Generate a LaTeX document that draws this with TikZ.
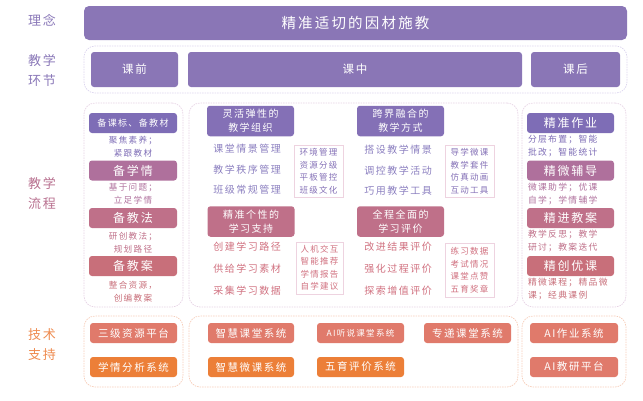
\documentclass[tikz,border=0pt]{standalone}
\usepackage{fontspec}
\setmainfont{Noto Sans CJK SC}[LetterSpace=15]
\definecolor{pur}{HTML}{8A76B6}
\definecolor{purd}{HTML}{7E6DB6}
\definecolor{hpur}{HTML}{8470B6}
\definecolor{mauve}{HTML}{AF709C}
\definecolor{rose}{HTML}{BF7089}
\definecolor{crose}{HTML}{C86F7A}
\definecolor{salmon}{HTML}{E07A6B}
\definecolor{orng}{HTML}{EC7F38}
\definecolor{lpur}{HTML}{8C80C0}
\definecolor{lrose}{HTML}{D0707F}
\definecolor{lblpur}{HTML}{8A78B8}
\definecolor{lblrose}{HTML}{B8708F}
\definecolor{lblor}{HTML}{EE8A4E}
\definecolor{c2line}{HTML}{DCD5EE}
\definecolor{c3line}{HTML}{E6D3E4}
\definecolor{c4line}{HTML}{F6CDB9}
\definecolor{lbline}{HTML}{EED3E0}
\tikzset{
  fillbox/.style={fill=#1, text=white, rounded corners=3pt, inner sep=0pt, align=center},
  cont/.style={draw=#1, dash pattern=on 1.5pt off 1pt, line width=0.7pt, rounded corners=11pt, inner sep=0pt},
  listbox/.style={draw=lbline, line width=0.5pt, inner sep=0pt, align=center, text=#1, font=\fontsize{8.5}{12.5}\selectfont},
  lbl/.style={text=#1, align=center, font=\fontsize{13}{20}\selectfont},
  note/.style={text=#1, align=center, font=\fontsize{8.6}{13}\selectfont},
  rnote/.style={text=#1, align=left, font=\fontsize{8.8}{13}\selectfont, text width=88pt, inner sep=0pt},
  item/.style={text=#1, font=\fontsize{10}{12}\selectfont},
  bigb/.style={fillbox=#1, minimum width=88pt, minimum height=20pt, font=\fontsize{12}{14}\selectfont},
  head/.style={fillbox=#1, minimum width=87pt, minimum height=30.5pt, font=\fontsize{10}{14}\selectfont},
  tech/.style={fillbox=#1, minimum width=87pt, minimum height=20pt, font=\fontsize{10.5}{12}\selectfont}
}
\begin{document}
\begin{tikzpicture}[x=1pt,y=-1pt]
\useasboundingbox (0,0) rectangle (643,400);
% side labels
\node[lbl=lblpur] (l1) at (42,20) {理念};
\node[lbl=lblpur] (l2) at (42,70) {教学\\环节};
\node[lbl=lblrose] (l3) at (42,193) {教学\\流程};
\node[lbl=lblor] (l4) at (42,345) {技术\\支持};
% row 1
\node[fillbox=pur, minimum width=543pt, minimum height=34pt, rounded corners=5pt, font=\fontsize{14.5}{16}\selectfont] (idea) at (355.5,23) {精准适切的因材施教};
% row 2
\node[cont=c2line, minimum width=543pt, minimum height=47pt] (c2) at (355.5,69.5) {};
\node[fillbox=pur, minimum width=87pt, minimum height=35pt, font=\fontsize{11.5}{13}\selectfont] (pre) at (134.5,69.5) {课前};
\node[fillbox=pur, minimum width=334pt, minimum height=35pt, font=\fontsize{11.5}{13}\selectfont] (mid) at (355,69.5) {课中};
\node[fillbox=pur, minimum width=89pt, minimum height=35pt, font=\fontsize{11.5}{13}\selectfont] (post) at (575.5,69.5) {课后};
% row 3 containers
\node[cont=c3line, minimum width=99pt, minimum height=204pt] (c3l) at (133.5,205) {};
\node[cont=c3line, minimum width=329pt, minimum height=204pt] (c3m) at (353.5,205) {};
\node[cont=c3line, minimum width=104pt, minimum height=204pt] (c3r) at (574,205) {};
% left column
\node[fillbox=purd, minimum width=88pt, minimum height=20pt, font=\fontsize{9}{11}\selectfont] (b1) at (133,123) {备课标、备教材};
\node[note=purd] (n1) at (133,146.5) {聚焦素养；\\紧跟教材};
\node[bigb=mauve] (b2) at (133,170.5) {备学情};
\node[note=mauve] (n2) at (133,194) {基于问题；\\立足学情};
\node[bigb=rose] (b3) at (133,218) {备教法};
\node[note=rose] (n3) at (133,243) {研创教法；\\规划路径};
\node[bigb=crose] (b4) at (133,266) {备教案};
\node[note=crose] (n4) at (133,291.5) {整合资源，\\创编教案};
% middle column
\node[head=hpur] (h1) at (250.5,121) {灵活弹性的\\教学组织};
\node[item=lpur] (i11) at (247,149) {课堂情景管理};
\node[item=lpur] (i12) at (247,170) {教学秩序管理};
\node[item=lpur] (i13) at (247,190) {班级常规管理};
\node[listbox=hpur, minimum width=49pt, minimum height=52pt] (s1) at (318.5,171) {环境管理\\资源分级\\平板管控\\班级文化};
\node[head=rose] (h2) at (251,221.5) {精准个性的\\学习支持};
\node[item=lrose] (i21) at (247,247) {创建学习路径};
\node[item=lrose] (i22) at (247,269) {供给学习素材};
\node[item=lrose] (i23) at (247,291) {采集学习数据};
\node[listbox=lrose, minimum width=47pt, minimum height=52pt] (s2) at (319.5,268) {人机交互\\智能推荐\\学情报告\\自学建议};
\node[head=hpur] (h3) at (400.5,121) {跨界融合的\\教学方式};
\node[item=lpur] (i31) at (398,150) {搭设教学情景};
\node[item=lpur] (i32) at (398,171) {调控教学活动};
\node[item=lpur] (i33) at (398,191) {巧用教学工具};
\node[listbox=hpur, minimum width=49pt, minimum height=52pt] (s3) at (469.5,171) {导学微课\\教学套件\\仿真动画\\互动工具};
\node[head=rose] (h4) at (400.5,221.5) {全程全面的\\学习评价};
\node[item=lrose] (i41) at (398,247) {改进结果评价};
\node[item=lrose] (i42) at (398,269) {强化过程评价};
\node[item=lrose] (i43) at (398,291) {探索增值评价};
\node[listbox=lrose, minimum width=49pt, minimum height=54pt] (s4) at (469.5,270) {练习数据\\考试情况\\课堂点赞\\五育奖章};
% right column
\node[bigb=purd, minimum width=87pt] (r1) at (570.5,123) {精准作业};
\node[rnote=purd] (m1) at (572,145.5) {分层布置；智能\\批改；智能统计};
\node[bigb=mauve, minimum width=87pt] (r2) at (570.5,170.5) {精微辅导};
\node[rnote=mauve] (m2) at (572,194) {微课助学；优课\\自学；学情辅学};
\node[bigb=rose, minimum width=87pt] (r3) at (570.5,218) {精进教案};
\node[rnote=rose] (m3) at (572,241) {教学反思；教学\\研讨；教案迭代};
\node[bigb=crose, minimum width=87pt] (r4) at (570.5,266) {精创优课};
\node[rnote=crose] (m4) at (572,289.5) {精微课程；精品微\\课；经典课例};
% row 4
\node[cont=c4line, minimum width=99pt, minimum height=71pt] (c4l) at (133.5,351.5) {};
\node[cont=c4line, minimum width=329pt, minimum height=71pt] (c4m) at (353.5,351.5) {};
\node[cont=c4line, minimum width=104pt, minimum height=71pt] (c4r) at (574,351.5) {};
\node[tech=salmon] (t1) at (133.5,333) {三级资源平台};
\node[tech=orng] (t2) at (133.5,367) {学情分析系统};
\node[tech=salmon, minimum width=86pt] (t3) at (251,333) {智慧课堂系统};
\node[tech=salmon, font=\fontsize{8.5}{10}\selectfont] (t4) at (360.5,333) {AI听说课堂系统};
\node[tech=salmon] (t5) at (467.5,333) {专递课堂系统};
\node[tech=orng, minimum width=86pt] (t6) at (251,367) {智慧微课系统};
\node[tech=orng] (t7) at (360.5,367) {五育评价系统};
\node[tech=salmon, minimum width=88pt] (t8) at (574,333) {AI作业系统};
\node[tech=salmon, minimum width=88pt] (t9) at (574,367) {AI教研平台};
\end{tikzpicture}
\end{document}
